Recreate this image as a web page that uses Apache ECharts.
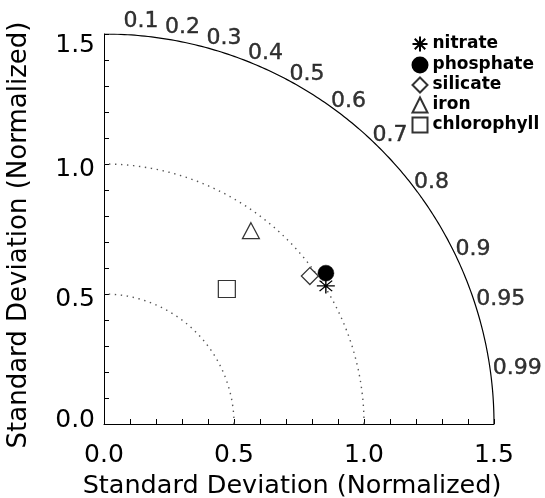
<!DOCTYPE html>
<html>
<head>
<meta charset="utf-8">
<script src="https://cdn.jsdelivr.net/npm/echarts@6/dist/echarts.min.js"></script>
<style>html,body{margin:0;padding:0;background:#fff}#c{width:545px;height:498px}</style>
</head>
<body>
<div id="c"></div>
<script>
// ---- data ----
const names = ['nitrate', 'phosphate', 'silicate', 'iron', 'chlorophyll'];
const stdDev = [1.005, 1.032, 0.975, 0.934, 0.702];       // normalized standard deviation
const correlation = [0.849, 0.827, 0.812, 0.605, 0.673];  // correlation coefficient
const corrTicks = [0.1, 0.2, 0.3, 0.4, 0.5, 0.6, 0.7, 0.8, 0.9, 0.95, 0.99];
const refRadii = [0.5, 1.0];
const maxStd = 1.5;
const axisTickValues = [0.0, 0.5, 1.0, 1.5];
const axisTitle = 'Standard Deviation (Normalized)';

const FONT = 'DejaVu Sans';
const symbols = {
  nitrate: 'path://M0,5L10,5M5,0L5,10M1.5,1.5L8.5,8.5M8.5,1.5L1.5,8.5',
  phosphate: 'circle',
  silicate: 'diamond',
  iron: 'triangle',
  chlorophyll: 'rect'
};
const sizes = { nitrate: [18, 15], phosphate: 16, silicate: [17, 17], iron: [17, 16], chlorophyll: 17 };

function arc(r) {
  const pts = [];
  for (let a = 0; a <= 90.0001; a += 0.5) {
    const t = a * Math.PI / 180;
    pts.push([r * Math.cos(t), r * Math.sin(t)]);
  }
  return pts;
}

const series = [];
// outer arc
series.push({
  type: 'line', data: arc(maxStd), showSymbol: false, silent: true, z: 2,
  lineStyle: { color: '#000', width: 1.2 }
});
// reference std arcs (dotted)
refRadii.forEach(r => series.push({
  type: 'line', data: arc(r), showSymbol: false, silent: true, z: 2,
  lineStyle: { color: '#555', width: 1.4, type: [1.4, 4.6] }
}));
// correlation labels along the outer arc
series.push({
  type: 'scatter', silent: true, symbolSize: 0, z: 3,
  data: corrTicks.map(c => {
    const s = Math.sqrt(1 - c * c);
    return {
      value: [maxStd * c, maxStd * s], name: String(c),
      label: { offset: [-22 + 25 * c, -16.5 * s + 2] }
    };
  }),
  label: {
    show: true, position: 'inside', align: 'left', verticalAlign: 'middle',
    formatter: p => p.name, color: '#000', fontSize: 22, fontFamily: FONT,
    textBorderColor: '#000', textBorderWidth: 0.4
  }
});
// data points
names.forEach((n, i) => {
  series.push({
    name: n, type: 'scatter', z: 5,
    symbol: symbols[n], symbolSize: sizes[n],
    data: [[stdDev[i] * correlation[i], stdDev[i] * Math.sqrt(1 - correlation[i] * correlation[i])]],
    itemStyle: n === 'phosphate'
      ? { color: '#000', borderColor: '#000', borderWidth: 0.5, opacity: 1 }
      : n === 'nitrate'
        ? { color: 'none', borderColor: '#000', borderWidth: 1.3, opacity: 1 }
        : { color: '#fff', borderColor: '#333', borderWidth: 1.2, opacity: 1 }
  });
});

const yRich = {
  hi: { fontSize: 25, fontFamily: FONT, color: '#000', padding: [22, 0, 0, 0] },
  md: { fontSize: 25, fontFamily: FONT, color: '#000', padding: [11, 0, 0, 0] },
  lo: { fontSize: 25, fontFamily: FONT, color: '#000', padding: [0, 0, 7, 0] }
};

const axisCommon = {
  type: 'value', min: 0, max: maxStd, interval: 0.5,
  nameLocation: 'middle', name: axisTitle,
  splitLine: { show: false },
  axisLine: { show: true, onZero: false, lineStyle: { color: '#000', width: 1 } },
  axisTick: { show: true, inside: true, length: 5, lineStyle: { color: '#000' } },
  minorTick: { show: true, splitNumber: 5, length: 5, lineStyle: { color: '#000' } }
};

const chart = echarts.init(document.getElementById('c'), null, { renderer: 'canvas' });
chart.setOption({
  animation: false,
  backgroundColor: '#fff',
  grid: { left: 104, right: 51, top: 34, bottom: 74, containLabel: false, outerBoundsMode: 'none' },
  xAxis: Object.assign({}, axisCommon, {
    nameGap: 36,
    nameTextStyle: { fontSize: 25.5, fontFamily: FONT, color: '#000', padding: [0, 14, 0, 0] },
    axisLabel: { fontSize: 25, fontFamily: FONT, color: '#000', margin: 19,
      formatter: v => axisTickValues.includes(v) ? v.toFixed(1) : '' }
  }),
  yAxis: Object.assign({}, axisCommon, {
    nameGap: 72, nameRotate: 90,
    nameTextStyle: { fontSize: 26, fontFamily: FONT, color: '#000', padding: [0, 12, 0, 0] },
    axisLabel: { margin: 9, rich: yRich,
      formatter: v => {
        const t = v.toFixed(1);
        if (v === maxStd) return '{hi|' + t + '}';
        if (v === 0) return '{lo|' + t + '}';
        return '{md|' + t + '}';
      } }
  }),
  legend: {
    data: names, orient: 'vertical', left: 410, top: 34, padding: 0,
    itemWidth: 15, itemHeight: 15, itemGap: 2,
    textStyle: { fontSize: 17, fontWeight: 'bold', fontFamily: FONT, color: '#000', lineHeight: 18 }
  },
  series: series
});
</script>
</body>
</html>
